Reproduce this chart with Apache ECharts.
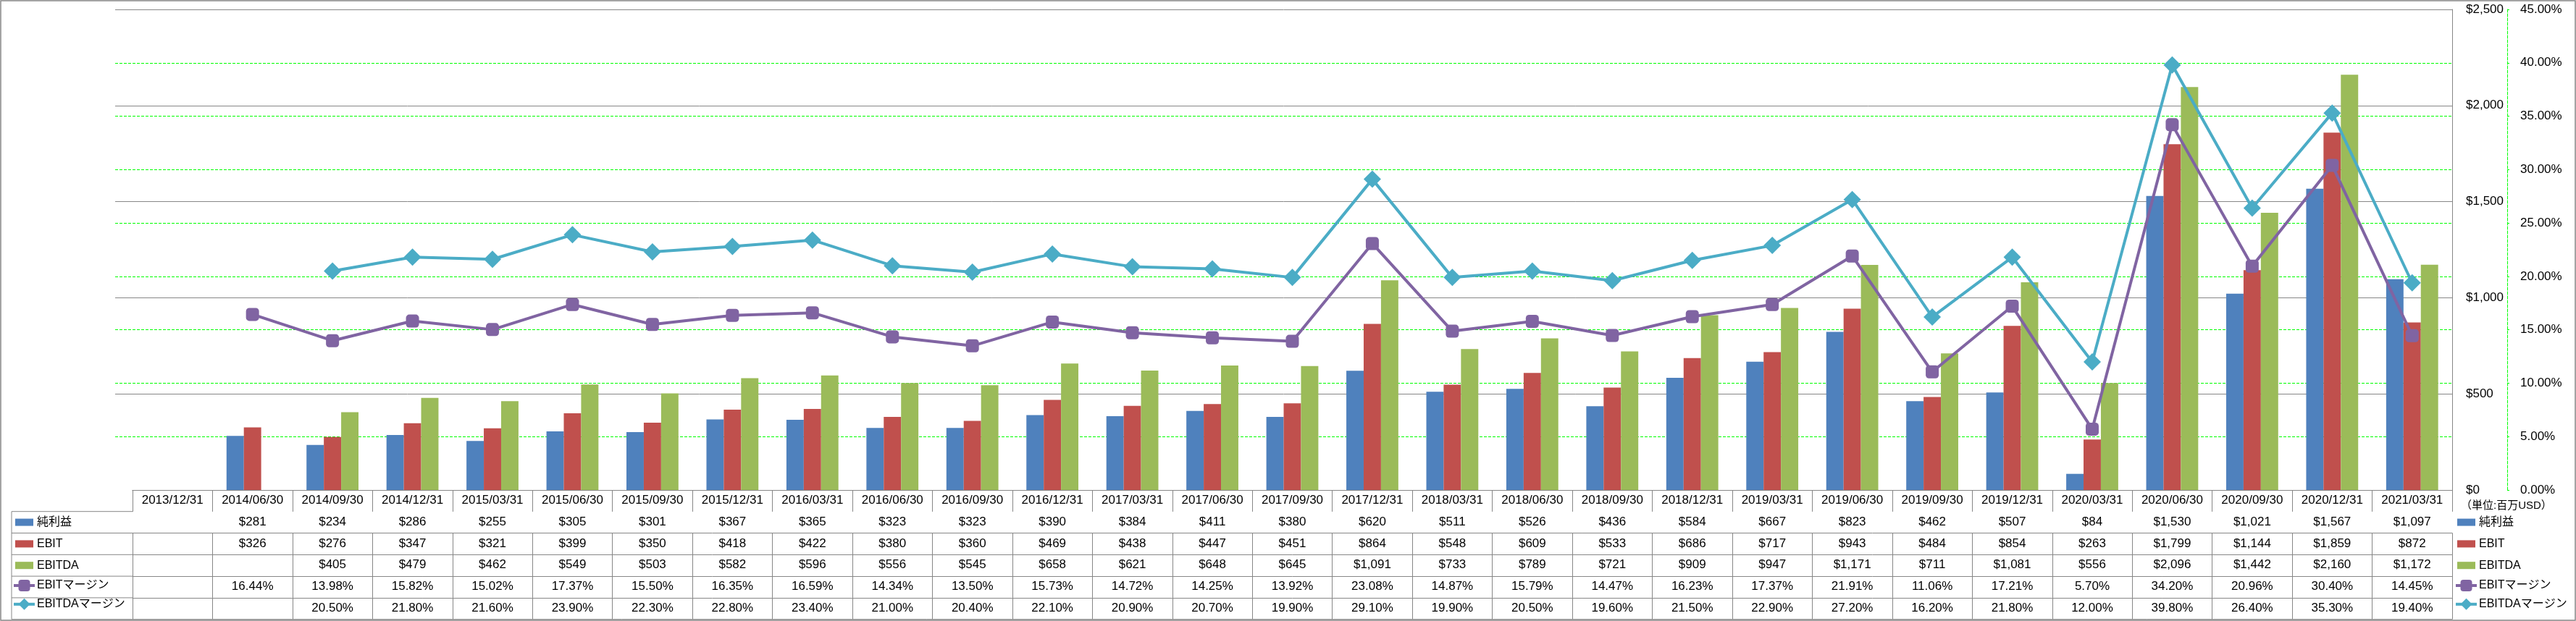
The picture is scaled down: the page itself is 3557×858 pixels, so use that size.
<!DOCTYPE html>
<html>
<head>
<meta charset="utf-8">
<script src="https://cdn.jsdelivr.net/npm/echarts@6/dist/echarts.min.js"></script>
<style>
html,body{margin:0;padding:0;background:#fff;}
#chart{width:3557px;height:858px;}
</style>
</head>
<body>
<div id="chart"></div>
<script>
const categories = ['2013/12/31','2014/06/30','2014/09/30','2014/12/31','2015/03/31','2015/06/30','2015/09/30','2015/12/31','2016/03/31','2016/06/30','2016/09/30','2016/12/31','2017/03/31','2017/06/30','2017/09/30','2017/12/31','2018/03/31','2018/06/30','2018/09/30','2018/12/31','2019/03/31','2019/06/30','2019/09/30','2019/12/31','2020/03/31','2020/06/30','2020/09/30','2020/12/31','2021/03/31'];
const netIncome = [null,281,234,286,255,305,301,367,365,323,323,390,384,411,380,620,511,526,436,584,667,823,462,507,84,1530,1021,1567,1097];
const ebit = [null,326,276,347,321,399,350,418,422,380,360,469,438,447,451,864,548,609,533,686,717,943,484,854,263,1799,1144,1859,872];
const ebitda = [null,null,405,479,462,549,503,582,596,556,545,658,621,648,645,1091,733,789,721,909,947,1171,711,1081,556,2096,1442,2160,1172];
const ebitMargin = [null,16.44,13.98,15.82,15.02,17.37,15.50,16.35,16.59,14.34,13.50,15.73,14.72,14.25,13.92,23.08,14.87,15.79,14.47,16.23,17.37,21.91,11.06,17.21,5.70,34.20,20.96,30.40,14.45];
const ebitdaMargin = [null,null,20.50,21.80,21.60,23.90,22.30,22.80,23.40,21.00,20.40,22.10,20.90,20.70,19.90,29.10,19.90,20.50,19.60,21.50,22.90,27.20,16.20,21.80,12.00,39.80,26.40,35.30,19.40];
const seriesNames = ['純利益','EBIT','EBITDA','EBITマージン','EBITDAマージン'];
const valueAxisRange = {min:0, max:2500, interval:500};
const pctAxisRange = {min:0, max:45, interval:5};
const unitText = '（単位:百万USD）';

const FONT = '"Liberation Sans", "Noto Sans CJK JP", sans-serif';
const GRAY = '#878787';
const GREEN = '#00FF00';
const COLORS = ['#4F81BD','#C0504D','#9BBB59','#8064A2','#4BACC6'];
const ROW_H = 29.8;
const HEADER_H = 29.7;

const fmtMoney = v => (v == null ? '' : '$' + Number(v).toLocaleString('en-US'));
const fmtPct = v => (v == null ? '' : Number(v).toFixed(2) + '%');

const rowData = [netIncome, ebit, ebitda, ebitMargin, ebitdaMargin];
const rowFmt = [fmtMoney, fmtMoney, fmtMoney, fmtPct, fmtPct];

function tableAxis(offset, labelFn, tickLen) {
  return {
    type: 'category', gridIndex: 0, position: 'bottom', offset: offset,
    data: categories, boundaryGap: true,
    axisLine: {show: true, lineStyle: {color: GRAY, width: 1}},
    axisTick: {show: true, alignWithLabel: false, interval: 0, inside: false, length: tickLen, lineStyle: {color: GRAY, width: 1}},
    axisLabel: {show: true, interval: 0, margin: 6, fontSize: 17, color: '#000', fontFamily: FONT, formatter: labelFn},
    splitLine: {show: false}
  };
}

const xAxes = [
  {type: 'category', gridIndex: 1, data: categories, show: false},
  tableAxis(0, (v) => v, HEADER_H)
];
for (let r = 0; r < 5; r++) {
  const arr = rowData[r], f = rowFmt[r];
  xAxes.push(tableAxis(HEADER_H + r * ROW_H, (v, i) => f(arr[i]), ROW_H));
}

const legendData = seriesNames.map((n, i) => i < 3
  ? {name: n, icon: 'path://M0,0M29,20M2,5h25v10h-25z', itemStyle: {color: COLORS[i], borderWidth: 0}}
  : {name: n, itemStyle: {color: COLORS[i], borderColor: COLORS[i], borderWidth: 0}, lineStyle: {color: COLORS[i], width: 4}});
function makeLegend(left) {
  return {
    orient: 'vertical', left: left, top: 677 + HEADER_H + ROW_H / 2 - 10, padding: 0,
    itemWidth: 29, itemHeight: 20, itemGap: ROW_H - 20, selectedMode: false,
    textStyle: {fontSize: 16, fontFamily: FONT, color: '#000', padding: [0, 0, 0, -2]},
    data: legendData
  };
}

const tableTop = 677 + HEADER_H;
const graphicEls = [
  {type: 'rect', shape: {x: 1, y: 1, width: 3555, height: 856}, style: {fill: 'none', stroke: GRAY, lineWidth: 1.5}, silent: true},
  {type: 'line', shape: {x1: 16, y1: tableTop, x2: 16, y2: tableTop + 5 * ROW_H}, style: {stroke: GRAY, lineWidth: 1}, silent: true},
  {type: 'line', shape: {x1: 16, y1: tableTop + 5 * ROW_H, x2: 3386, y2: tableTop + 5 * ROW_H}, style: {stroke: GRAY, lineWidth: 1}, silent: true},
  {type: 'text', left: 3398, top: 691, style: {text: unitText, font: '15px ' + FONT, fill: '#000'}, silent: true}
];
for (let r = 0; r < 5; r++) {
  const y = tableTop + r * ROW_H;
  graphicEls.push({type: 'line', shape: {x1: 16, y1: y, x2: 183, y2: y}, style: {stroke: GRAY, lineWidth: 1}, silent: true});
}

const option = {
  animation: false,
  backgroundColor: '#fff',
  textStyle: {fontFamily: FONT},
  grid: [
    {left: 183, right: 171, top: 13, bottom: 181, outerBoundsMode: 'none', containLabel: false},
    {left: 159, right: 171, top: 13, bottom: 181, outerBoundsMode: 'none', containLabel: false}
  ],
  xAxis: xAxes,
  yAxis: [
    {type: 'value', gridIndex: 1, position: 'right', offset: 76, min: pctAxisRange.min, max: pctAxisRange.max, interval: pctAxisRange.interval,
      axisLine: {show: true, lineStyle: {color: GREEN, type: [4, 2], width: 1}},
      axisTick: {show: true, length: 3, inside: false, lineStyle: {color: GREEN, width: 1}},
      axisLabel: {margin: 18, fontSize: 17, color: '#000', fontFamily: FONT, formatter: v => v.toFixed(2) + '%'},
      splitLine: {show: true, showMinLine: false, lineStyle: {color: GREEN, type: [4, 2], width: 1}}},
    {type: 'value', gridIndex: 1, position: 'right', offset: 0, min: valueAxisRange.min, max: valueAxisRange.max, interval: valueAxisRange.interval,
      axisLine: {show: true, lineStyle: {color: GRAY, width: 1}},
      axisTick: {show: false},
      axisLabel: {margin: 19, fontSize: 17, color: '#000', fontFamily: FONT, formatter: v => '$' + v.toLocaleString('en-US')},
      splitLine: {show: true, showMinLine: false, lineStyle: {color: GRAY, width: 1}}},
    {type: 'value', gridIndex: 0, show: false, min: valueAxisRange.min, max: valueAxisRange.max, interval: valueAxisRange.interval, splitLine: {show: false}},
    {type: 'value', gridIndex: 0, show: false, min: pctAxisRange.min, max: pctAxisRange.max, interval: pctAxisRange.interval, splitLine: {show: false}}
  ],
  legend: [makeLegend(17), makeLegend(3389)],
  graphic: graphicEls,
  series: [
    {name: seriesNames[0], type: 'bar', xAxisIndex: 1, yAxisIndex: 2, data: netIncome, itemStyle: {color: COLORS[0]}, barGap: '0%', barCategoryGap: '35%'},
    {name: seriesNames[1], type: 'bar', xAxisIndex: 1, yAxisIndex: 2, data: ebit, itemStyle: {color: COLORS[1]}, barGap: '0%', barCategoryGap: '35%'},
    {name: seriesNames[2], type: 'bar', xAxisIndex: 1, yAxisIndex: 2, data: ebitda, itemStyle: {color: COLORS[2]}, barGap: '0%', barCategoryGap: '35%'},
    {name: seriesNames[3], type: 'line', xAxisIndex: 1, yAxisIndex: 3, data: ebitMargin, z: 3,
      symbol: 'roundRect', symbolSize: 18, lineStyle: {color: COLORS[3], width: 4}, itemStyle: {color: COLORS[3], borderWidth: 0}},
    {name: seriesNames[4], type: 'line', xAxisIndex: 1, yAxisIndex: 3, data: ebitdaMargin, z: 4,
      symbol: 'diamond', symbolSize: 24, lineStyle: {color: COLORS[4], width: 4}, itemStyle: {color: COLORS[4], borderWidth: 0}}
  ]
};

const chart = echarts.init(document.getElementById('chart'), null, {renderer: 'canvas'});
chart.setOption(option);
</script>
</body>
</html>
